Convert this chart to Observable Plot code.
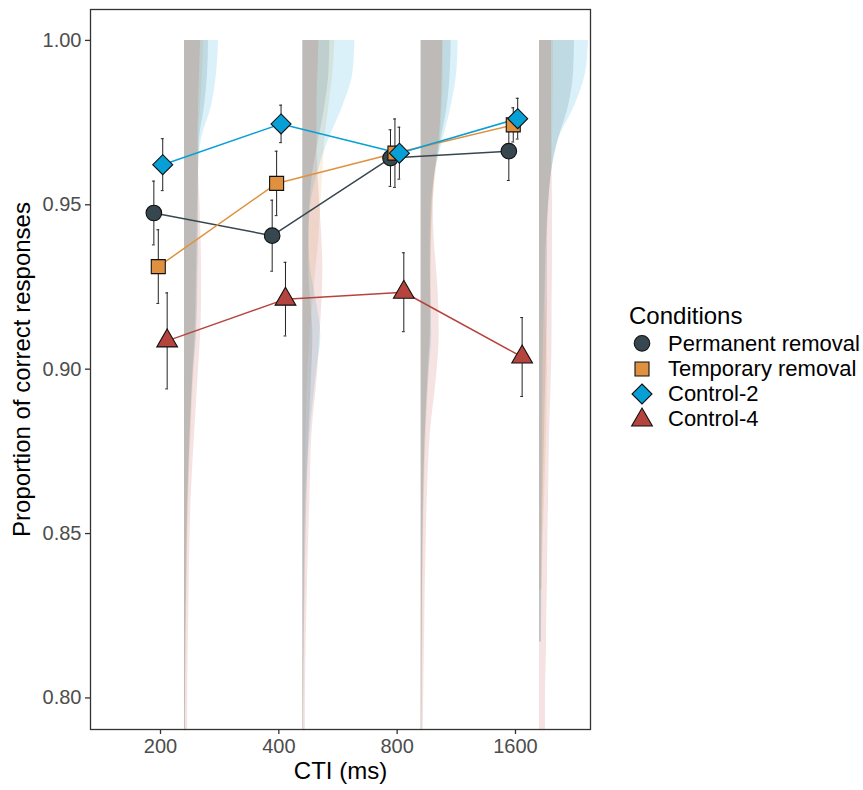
<!DOCTYPE html>
<html><head><meta charset="utf-8">
<script src="https://cdn.jsdelivr.net/npm/d3@7"></script>
<script src="https://cdn.jsdelivr.net/npm/@observablehq/plot@0.6"></script>
<style>
body{margin:0;background:#fff;font-family:"Liberation Sans",Arial,sans-serif;}
#wrap{position:relative;width:863px;height:790px;}
#legend{position:absolute;left:600px;top:290px;}
</style></head><body><div id="wrap"></div><script>
// ---- data ----
const ctiLabels = ["200", "400", "800", "1600"];
const conditions = ["Permanent removal", "Temporary removal", "Control-2", "Control-4"];
const yTicks = [0.80, 0.85, 0.90, 0.95, 1.00];

const meanPermanent = [0.9475, 0.9406, 0.9642, 0.9663];
const errPermanent  = [0.0097, 0.0108, 0.0086, 0.0089];
const meanTemporary = [0.9312, 0.9565, 0.9657, 0.9743];
const errTemporary  = [0.0112, 0.0098, 0.0104, 0.0052];
const meanControl2  = [0.9622, 0.9746, 0.9657, 0.9762];
const errControl2   = [0.0079, 0.0057, 0.0079, 0.0062];
const meanControl4  = [0.9086, 0.9213, 0.9234, 0.9037];
const errControl4   = [0.0146, 0.0112, 0.0120, 0.0120];

// density (half-violin width) at each accuracy level, per CTI
const densityLevels = [1.00, 0.99, 0.98, 0.97, 0.96, 0.95, 0.94, 0.93, 0.92, 0.91, 0.90, 0.88, 0.86, 0.84, 0.833, 0.82, 0.817, 0.80, 0.79];
const densityPermanent = [
  [24, 23, 20, 15, 14, 13, 12.5, 12, 11.5, 10.5, 8.5, 5.5, 3.5, 2.3, 2, 1.4, 1.3, 0.9, 0.7],
  [27, 26, 22, 16, 10, 7, 6, 6, 8, 10, 9, 6, 4, 2.5, 2.2, 1.5, 1.4, 1, 0.8],
  [30, 29, 26, 20, 14, 11, 10, 9.5, 9.5, 9, 7, 4, 2.5, 1.5, 1.3, 1, 0.9, 0.7, 0.5],
  [35, 34, 29, 19, 12, 9, 8, 8, 8, 7.5, 6.5, 5, 3.5, 2.5, 2.3, 2, 1.9, null, null]
];
const densityTemporary = [
  [19, 18, 16, 14, 14, 14, 13.5, 13, 12.5, 11.5, 9.5, 6.5, 4, 2.8, 2.4, 1.7, 1.6, 1.1, 0.9],
  [32, 30, 26, 22, 20, 18, 16, 13, 10, 7, 5, 3, 2, 1.5, 1.3, 1, 0.9, 0.7, 0.5],
  [22, 22, 21, 19, 15, 12, 10.5, 10, 10, 9.5, 8, 5, 3, 2, 1.8, 1.5, 1.4, 1, 0.8],
  [14, 14, 13.5, 13, 12, 9, 7, 6, 6, 7, 8, 7, 5, 3, 2.8, null, null, null, null]
];
const densityControl2 = [
  [34, 32, 27, 17, 14, 14, 14, 13.5, 13, 12, 9, 5.5, 3, 1.8, 1.5, 1, 0.9, 0.7, 0.6],
  [52, 50, 40, 26, 15, 8, 6, 8, 14, 18, 14, 7, 3, 1.5, 1.3, 1, 0.9, 0.5, 0.3],
  [37, 35.5, 30, 22, 14, 10, 9, 9, 10, 10.5, 8, 4, 2, 1.2, 1, 0.8, 0.7, 0.5, 0.4],
  [49, 46, 35, 19, 12, 9, 7, 6, 5, 4, 3.5, 3, 2.5, 2, 1.9, 1.5, 1.5, null, null]
];
const densityControl4 = [
  [16, 15, 14, 13.5, 14, 15.5, 16.5, 17, 17, 16, 14, 10, 6.5, 5, 4.6, 4, 3.8, 3.2, 3],
  [16, 15, 14, 14, 15, 17, 19, 20, 19, 17, 15, 9, 7, 5, 4.5, 3.5, 3.3, 2.6, 2.5],
  [21.5, 21, 20, 18, 14, 12, 13, 15.5, 17.5, 18, 16, 9, 6, 4.5, 4, 3.5, 3.3, 2.5, 2],
  [12, 12, 12, 12, 12.5, 13, 13, 13, 12.5, 12.5, 12, 10, 9, 8, 7.8, 7, 7, 6, 6]
];

// ---- styles ----
const colors = ["#37474f", "#e0913f", "#069fd6", "#b5443f"];
const symbols = ["circle", "square", "diamond2", "triangle"];
const symbolR = [7.8, 7.9, 9.0, 7.7];
const dodgeWidth = 0.15;
const violinOffset = 0.203;
const violinScale = 1 / 118.33;

const means = [meanPermanent, meanTemporary, meanControl2, meanControl4];
const errs = [errPermanent, errTemporary, errControl2, errControl4];
const densitySets = [densityPermanent, densityTemporary, densityControl2, densityControl4];

const pointRows = [];
conditions.forEach((c, ci) => {
  ctiLabels.forEach((t, j) => {
    const x = j + 1 + (ci - 1.5) * dodgeWidth / 4;
    pointRows.push({ci, j, x, mean: means[ci][j], lo: means[ci][j] - errs[ci][j], hi: means[ci][j] + errs[ci][j]});
  });
});
const violinRows = [];
densitySets.forEach((set, ci) => {
  set.forEach((arr, j) => {
    arr.forEach((v, k) => {
      if (v == null) return;
      const left = j + 1 + violinOffset;
      violinRows.push({ci, j, y: densityLevels[k], x1: left, x2: left + v * violinScale});
    });
  });
});

const marks = [];
conditions.forEach((c, ci) => {
  marks.push(Plot.areaX(violinRows.filter(d => d.ci === ci), {
    y: "y", x1: "x1", x2: "x2", z: "j", fill: colors[ci], fillOpacity: 0.15, curve: "monotone-y"
  }));
});
conditions.forEach((c, ci) => {
  marks.push(Plot.line(pointRows.filter(d => d.ci === ci), {x: "x", y: "mean", stroke: colors[ci], strokeWidth: 1.5}));
});
const capHalf = 0.012;
marks.push(Plot.ruleX(pointRows, {x: "x", y1: "lo", y2: "hi", stroke: "#222", strokeWidth: 1}));
marks.push(Plot.ruleY(pointRows, {y: "hi", x1: d => d.x - capHalf, x2: d => d.x + capHalf, stroke: "#222", strokeWidth: 1}));
marks.push(Plot.ruleY(pointRows, {y: "lo", x1: d => d.x - capHalf, x2: d => d.x + capHalf, stroke: "#222", strokeWidth: 1}));
conditions.forEach((c, ci) => {
  marks.push(Plot.dot(pointRows.filter(d => d.ci === ci), {
    x: "x", y: "mean", symbol: symbols[ci], r: symbolR[ci], fill: colors[ci], stroke: "#111", strokeWidth: 1.1
  }));
});
marks.push(Plot.frame({stroke: "#333", strokeWidth: 1.3}));
marks.push(Plot.axisX({ticks: [1, 2, 3, 4], tickFormat: i => ctiLabels[i - 1], label: null,
  tickSize: 5, tickPadding: 4, fontSize: 20, stroke: "#333", fill: "#4d4d4d", strokeWidth: 1.3}));
marks.push(Plot.axisY({ticks: yTicks, tickFormat: d3.format(".2f"), label: null,
  tickSize: 5, tickPadding: 4, fontSize: 20, stroke: "#333", fill: "#4d4d4d", strokeWidth: 1.3}));
marks.push(Plot.text(["CTI (ms)"], {text: d => d, frameAnchor: "bottom", dy: 49, fontSize: 24, fill: "#000"}));
marks.push(Plot.text(["Proportion of correct responses"], {text: d => d, frameAnchor: "left", textAnchor: "middle", dx: -68, rotate: -90, fontSize: 24, fill: "#000"}));

const chart = Plot.plot({
  width: 863, height: 790,
  marginLeft: 90, marginRight: 273, marginTop: 9, marginBottom: 61,
  style: {fontFamily: "Liberation Sans, Arial, sans-serif", background: "white"},
  x: {domain: [0.4084, 4.634]},
  y: {domain: [0.7904, 1.0094]},
  marks
});
const wrap = document.getElementById("wrap");
wrap.appendChild(chart);

// ---- legend ----
const leg = d3.select(wrap).append("svg").attr("id", "legend").attr("width", 263).attr("height", 150)
  .style("font-family", "Liberation Sans, Arial, sans-serif");
leg.append("text").attr("x", 29).attr("y", 34).attr("font-size", 24).attr("fill", "#000").text("Conditions");
const symTypes = [d3.symbolCircle, d3.symbolSquare, d3.symbolDiamond2, d3.symbolTriangle];
const rowY = [53.3, 79, 104, 130];
const textY = [61, 86, 111, 136];
conditions.forEach((c, ci) => {
  leg.append("path")
    .attr("d", d3.symbol(symTypes[ci], Math.PI * symbolR[ci] * symbolR[ci])())
    .attr("transform", `translate(42,${rowY[ci]})`)
    .attr("fill", colors[ci]).attr("stroke", "#111").attr("stroke-width", 1.1);
  leg.append("text").attr("x", 68).attr("y", textY[ci]).attr("font-size", 22).attr("fill", "#000").text(c);
});
</script></body></html>
